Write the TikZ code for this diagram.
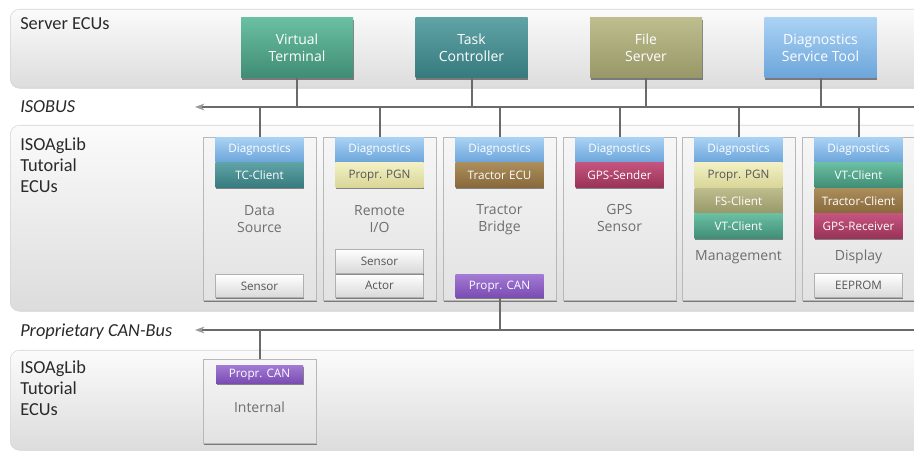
\documentclass[tikz,border=0pt]{standalone}
\usepackage{fontspec}
\setmainfont{Carlito}
\newfontfamily\bfnt{Open Sans}
\usetikzlibrary{shadows,arrows.meta}
\definecolor{panT}{HTML}{FBFBFB}
\definecolor{panB}{HTML}{DCDCDC}
\definecolor{panD}{HTML}{D4D4D4}
\definecolor{sideT}{HTML}{2A2A2A}
\definecolor{ecuT}{HTML}{F6F6F6}
\definecolor{ecuB}{HTML}{E2E2E2}
\definecolor{ecuD}{HTML}{B8B8B8}
\definecolor{lblT}{HTML}{6E6E6E}
\definecolor{busC}{HTML}{6A6A6A}
\definecolor{vtT}{HTML}{6ABFA2}\definecolor{vtB}{HTML}{3F8C74}
\definecolor{tcT}{HTML}{5FA3A7}\definecolor{tcB}{HTML}{377A7E}
\definecolor{fsT}{HTML}{BDBD8E}\definecolor{fsB}{HTML}{979768}
\definecolor{dgT}{HTML}{AAD2F4}\definecolor{dgB}{HTML}{6CA5DB}
\definecolor{ppT}{HTML}{F2F0C4}\definecolor{ppB}{HTML}{D8D696}
\definecolor{trT}{HTML}{AC8E5C}\definecolor{trB}{HTML}{86683A}
\definecolor{gpT}{HTML}{C4547E}\definecolor{gpB}{HTML}{983256}
\definecolor{pcT}{HTML}{A27AD4}\definecolor{pcB}{HTML}{7A4CB2}
\definecolor{snT}{HTML}{FFFFFF}\definecolor{snB}{HTML}{D8D8D8}
\definecolor{snD}{HTML}{B0B0B0}\definecolor{snX}{HTML}{555555}
\definecolor{arrC}{HTML}{9A9A9A}
\begin{document}
\begin{tikzpicture}[x=0.75pt,y=-0.75pt,
  panel/.style={rounded corners=7pt, top color=panT, bottom color=panB, draw=panD, line width=0.4pt, inner sep=0, anchor=north west},
  side/.style={font=\fontsize{13.75}{15.75}\selectfont, text=sideT, align=left, inner sep=0},
  shad/.style={drop shadow={shadow xshift=0.6pt, shadow yshift=-1.2pt, opacity=0.45, fill=black}},
  srv/.style={shad, minimum width=84pt, minimum height=45pt, inner sep=0, text=white, align=center, font=\bfnt\fontsize{10.5}{12.75}\selectfont},
  ecu/.style={shad, minimum width=84.75pt, minimum height=122.25pt, inner sep=0, anchor=north, top color=ecuT, bottom color=ecuB, draw=ecuD, line width=0.4pt},
  comp/.style={shad, minimum width=66pt, minimum height=18.75pt, inner sep=0, font=\bfnt\fontsize{8.75}{10}\selectfont, text=white},
  diag/.style={comp, top color=dgT, bottom color=dgB},
  tcc/.style={comp, top color=tcT, bottom color=tcB},
  vtc/.style={comp, top color=vtT, bottom color=vtB},
  fsc/.style={comp, top color=fsT, bottom color=fsB},
  ppc/.style={comp, top color=ppT, bottom color=ppB, text=snX},
  trc/.style={comp, top color=trT, bottom color=trB},
  gpc/.style={comp, top color=gpT, bottom color=gpB},
  pcc/.style={comp, top color=pcT, bottom color=pcB},
  hwc/.style={comp, top color=snT, bottom color=snB, draw=snD, line width=0.4pt, text=snX},
  lbl/.style={font=\bfnt\fontsize{10.5}{12.75}\selectfont, text=lblT, align=center, inner sep=0},
  bus/.style={draw=busC, line width=1.5pt},
  busarrow/.style={bus, -{Stealth[length=7pt,width=5pt,inset=2pt,color=arrC,fill=arrC]}},
]
\useasboundingbox (0,0) rectangle (914,452);
\clip (0,0) rectangle (914,452);
\fill[white] (0,0) rectangle (914,452);

% panels
\node[panel, minimum width=690pt, minimum height=59.25pt] (p1) at (10,9) {};
\node[panel, minimum width=690pt, minimum height=139.5pt] (p2) at (10,125) {};
\node[panel, minimum width=690pt, minimum height=75pt] (p3) at (10,350) {};

% side labels
\node[side, anchor=base west] (l1) at (20,30) {Server ECUs};
\node[side, anchor=base west] (l2) at (20,113) {\itshape ISOBUS};
\node[side, anchor=north west] (l3) at (20,137.5) {ISOAgLib\\Tutorial\\ECUs};
\node[side, anchor=base west] (l4) at (20,336) {\itshape Proprietary CAN-Bus};
\node[side, anchor=north west] (l5) at (20,360.5) {ISOAgLib\\Tutorial\\ECUs};

% server ECUs
\node[srv, top color=vtT, bottom color=vtB] (vt) at (297,48) {Virtual\\Terminal};
\node[srv, top color=tcT, bottom color=tcB] (tc) at (471.5,48) {Task\\Controller};
\node[srv, top color=fsT, bottom color=fsB] (fs) at (646,48) {File\\Server};
\node[srv, top color=dgT, bottom color=dgB] (dst) at (820.5,48) {Diagnostics\\Service Tool};

% buses
\coordinate (isoW) at (195,107);
\coordinate (isoE) at (914,107);
\coordinate (pcW) at (195,330);
\coordinate (pcE) at (914,330);

% tutorial ECUs
\node[ecu] (ds) at (259.5,137) {};
\node[ecu] (rio) at (379.5,137) {};
\node[ecu] (tb) at (499.5,137) {};
\node[ecu] (gps) at (619.5,137) {};
\node[ecu] (mg) at (738.5,137) {};
\node[ecu] (dp) at (858.5,137) {};

% Data Source
\node[diag, anchor=north] (ds1) at (ds.north) {Diagnostics};
\node[tcc, anchor=north] (ds2) at (ds1.south) {TC-Client};
\node[lbl] (dsl) at (259.5,219.5) {Data\\Source};
\node[hwc, anchor=south, minimum height=17.25pt] (ds3) at (259.5,298) {Sensor};

% Remote I/O
\node[diag, anchor=north] (rio1) at (rio.north) {Diagnostics};
\node[ppc, anchor=north] (rio2) at (rio1.south) {Propr. PGN};
\node[lbl] (riol) at (379.5,219.5) {Remote\\I/O};
\node[hwc, anchor=south, minimum height=18pt] (rio4) at (379.5,298) {Actor};
\node[hwc, anchor=south, minimum height=18pt] (rio3) at (rio4.north) {Sensor};

% Tractor Bridge
\node[diag, anchor=north] (tb1) at (tb.north) {Diagnostics};
\node[trc, anchor=north] (tb2) at (tb1.south) {Tractor ECU};
\node[lbl] (tbl) at (499.5,219.5) {Tractor\\Bridge};
\node[pcc, anchor=south, minimum height=17.25pt] (tb3) at (499.5,298) {Propr. CAN};

% GPS Sensor
\node[diag, anchor=north] (gps1) at (gps.north) {Diagnostics};
\node[gpc, anchor=north] (gps2) at (gps1.south) {GPS-Sender};
\node[lbl] (gpsl) at (619.5,218) {GPS\\Sensor};

% Management
\node[diag, anchor=north] (mg1) at (mg.north) {Diagnostics};
\node[ppc, anchor=north] (mg2) at (mg1.south) {Propr. PGN};
\node[fsc, anchor=north] (mg3) at (mg2.south) {FS-Client};
\node[vtc, anchor=north] (mg4) at (mg3.south) {VT-Client};
\node[lbl] (mgl) at (738.5,257) {Management};

% Display
\node[diag, anchor=north] (dp1) at (dp.north) {Diagnostics};
\node[vtc, anchor=north] (dp2) at (dp1.south) {VT-Client};
\node[trc, anchor=north] (dp3) at (dp2.south) {Tractor-Client};
\node[gpc, anchor=north] (dp4) at (dp3.south) {GPS-Receiver};
\node[lbl] (dpl) at (858.5,257) {Display};
\node[hwc, anchor=south, minimum height=18pt] (dp5) at (858.5,298) {EEPROM};

% Internal
\node[ecu, minimum height=63pt] (in) at (259.5,359) {};
\node[pcc, anchor=north, minimum height=13.5pt, minimum width=65.25pt] (in1) at (259.5,365) {Propr. CAN};
\node[lbl] (inl) at (259.5,407) {Internal};

% bus lines
\draw[busarrow] (isoE) -- (isoW);
\draw[busarrow] (pcE) -- (pcW);
\foreach \n in {vt,tc,fs,dst} \draw[bus] (\n.south) -- (\n.south |- isoW);
\foreach \n in {ds,rio,tb,gps,mg,dp} \draw[bus] (\n.north) -- (\n.north |- isoW);
\draw[bus] (tb3.south) -- (tb3.south |- pcW);
\draw[bus] (in.north) -- (in.north |- pcW);
\end{tikzpicture}
\end{document}
